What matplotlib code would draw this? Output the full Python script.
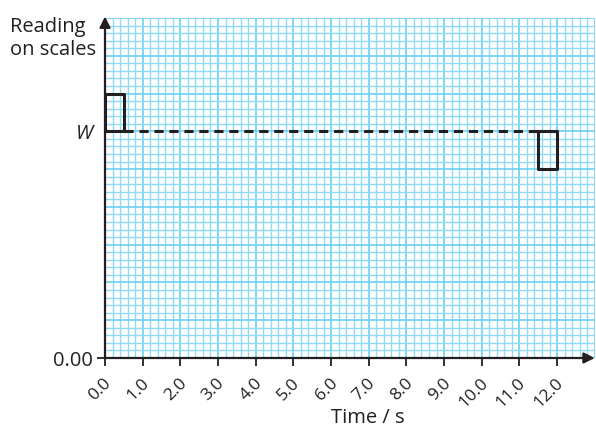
import matplotlib
matplotlib.use("Agg")
import matplotlib.pyplot as plt
import matplotlib.transforms as mtransforms
import numpy as np

plt.rcParams['font.family'] = ['Open Sans', 'DejaVu Sans']

# Data
x_ticks = [0.0, 1.0, 2.0, 3.0, 4.0, 5.0, 6.0, 7.0, 8.0, 9.0, 10.0, 11.0, 12.0]
x_tick_labels = ['0.0', '1.0', '2.0', '3.0', '4.0', '5.0', '6.0', '7.0', '8.0',
                 '9.0', '10.0', '11.0', '12.0']
W_level = 30
y_tick_values = [0, W_level]
y_tick_labels = ['0.00', 'W']
# reading trace: baseline W, box above at start, box below at end
start_box_t = [0.0, 0.0, 0.5, 0.5]
start_box_r = [30, 35, 35, 30]
dashed_t = [0.5, 11.5]
dashed_r = [30, 30]
end_box_t = [11.5, 12.0, 12.0, 11.5, 11.5]
end_box_r = [30, 30, 25, 25, 30]
x_max, y_max = 13.0, 45

ink = '#231f20'
FS = 14.5
fig = plt.figure(figsize=(5.96, 4.28), dpi=100)
ax = fig.add_axes([105/596, 1-358/428, (596-105)/596 * 0.9975, (358-18)/428])
ax.set_xlim(0, x_max)
ax.set_ylim(0, y_max)

# graph paper grid
minor_c = '#8fdaf6'
major_c = '#6dcff6'
for xv in np.arange(0, x_max + 1e-9, 0.2):
    major = abs(xv - round(xv)) < 1e-6
    ax.axvline(xv, color=major_c if major else minor_c, lw=1.2 if major else 1.0, zorder=0)
for yv in np.arange(0, y_max + 1e-9, 1):
    major = int(round(yv)) % 5 == 0
    ax.axhline(yv, color=major_c if major else minor_c, lw=1.2 if major else 1.0, zorder=0)

for s in ax.spines.values():
    s.set_visible(False)

# traces
ax.plot([0.0, 0.5], [30, 30], color=ink, lw=2.2, solid_capstyle='butt', zorder=3)
ax.plot(start_box_t, start_box_r, color=ink, lw=2.2, zorder=3)
ax.plot(dashed_t, dashed_r, color=ink, lw=2.2, ls=(0, (3.0, 1.9)), zorder=3)
ax.plot(end_box_t, end_box_r, color=ink, lw=2.2, zorder=3)

# axes with arrows
ax.annotate('', xy=(x_max, 0), xytext=(0, 0),
            arrowprops=dict(arrowstyle='-|>', color=ink, lw=1.6,
                            mutation_scale=16, shrinkA=0, shrinkB=0),
            annotation_clip=False, zorder=5)
ax.annotate('', xy=(0, y_max + 0.2), xytext=(0, 0),
            arrowprops=dict(arrowstyle='-|>', color=ink, lw=1.6,
                            mutation_scale=16, shrinkA=0, shrinkB=0),
            annotation_clip=False, zorder=5)

# x ticks: marks via axis, labels as rotated text
ax.set_xticks(x_ticks)
ax.set_xticklabels([])
ax.tick_params(axis='x', length=6, width=1.3, color=ink, direction='out')
lbl_tr = ax.get_xaxis_transform() + mtransforms.ScaledTranslation(
    4/100, -23/100, fig.dpi_scale_trans)
for xv, lab in zip(x_ticks, x_tick_labels):
    ax.text(xv, 0, lab, transform=lbl_tr, rotation=45, ha='right', va='center',
            rotation_mode='anchor', fontsize=12.5, color=ink)

ax.set_yticks(y_tick_values)
ax.set_yticklabels(y_tick_labels, fontsize=FS, color=ink)
ax.get_yticklabels()[1].set_style('italic')
ax.tick_params(axis='y', length=6, width=1.3, color=ink, pad=3)
yt = ax.yaxis.get_major_ticks()
yt[1].tick1line.set_visible(False)

fig.text(10/596, 1-32/428, 'Reading', ha='left', va='baseline',
         fontsize=FS, color=ink)
fig.text(10/596, 1-55/428, 'on scales', ha='left', va='baseline',
         fontsize=FS, color=ink)
fig.text(368/596, 1-423/428, 'Time / s', ha='center', va='baseline',
         fontsize=FS, color=ink)

fig.savefig('out.png', dpi=100)
